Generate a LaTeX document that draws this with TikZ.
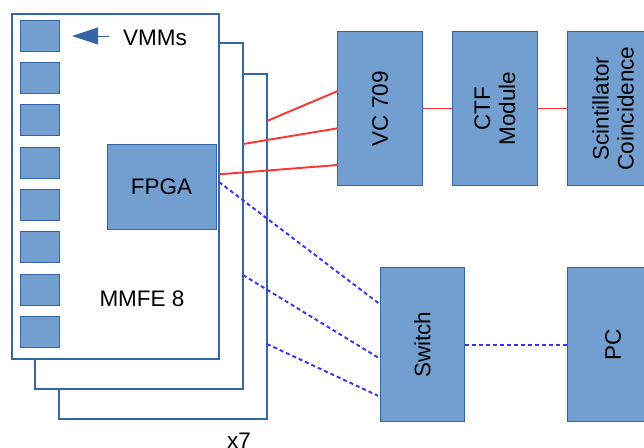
\documentclass[tikz,border=0pt]{standalone}
\usepackage{fontspec}
\setmainfont{Liberation Sans}
\usetikzlibrary{arrows.meta}
\definecolor{boxfill}{HTML}{729FCF}
\definecolor{boxline}{HTML}{3465A4}
\definecolor{redline}{HTML}{FF3333}
\definecolor{blueline}{HTML}{3333FF}
\begin{document}
\begin{tikzpicture}[x=1pt,y=-1pt,
  board/.style={draw=boxline, line width=1.7pt, fill=white, inner sep=0pt},
  vmm/.style={draw=boxline, line width=0.9pt, fill=boxfill, inner sep=0pt, minimum width=39pt, minimum height=31pt},
  block/.style={draw=boxline, line width=0.9pt, fill=boxfill, inner sep=0pt, align=center, font=\fontsize{22.5}{25}\selectfont},
  vblock/.style={block, rotate=90},
  lbl/.style={inner sep=0pt, font=\fontsize{22.5}{25}\selectfont},
  redc/.style={draw=redline, line width=1.9pt},
  bluec/.style={draw=blueline, line width=1.9pt, dash pattern=on 4pt off 3pt}
]
\useasboundingbox (0,0) rectangle (644,447);
% boards, back to front
\node[board, minimum width=208pt, minimum height=345pt] (b3) at (163,246.5) {};
\node[board, minimum width=208pt, minimum height=346pt] (b2) at (139,216) {};
\node[board, minimum width=207.3pt, minimum height=345pt] (b1) at (115.35,186.5) {};
% VMMs
\foreach \i/\y in {1/35.5,2/77.5,3/119.5,4/162.5,5/204.5,6/247,7/289.5,8/331.5}
  \node[vmm] (v\i) at (39.5,\y) {};
\node[block, minimum width=109pt, minimum height=85pt] (fpga) at (161.5,186.5) {FPGA};
\node[lbl] (vmmlbl) at (155,38) {VMMs};
\node[lbl] (mmfe) at (142,299) {MMFE 8};
\node[lbl] (x7) at (239,441) {x7};
% arrow
\coordinate (arrS) at (109,36);
\coordinate (arrT) at (72,36);
\draw[boxline, line width=0.9pt, -{Triangle[length=26pt,width=17pt]}] (arrS) -- (arrT);
% right blocks
\node[vblock, minimum width=153.6pt, minimum height=84.6pt] (vc) at (380,108.5) {VC 709};
\node[vblock, minimum width=153.6pt, minimum height=85pt] (ctf) at (494.8,108.5) {CTF\\Module};
\node[vblock, minimum width=153.6pt, minimum height=92pt] (sci) at (613,108.5) {Scintillator\\Coincidence};
\node[vblock, minimum width=154pt, minimum height=84.7pt] (sw) at (422.3,344.7) {Switch};
\node[vblock, minimum width=154pt, minimum height=92pt] (pc) at (613,344.7) {PC};
% red connectors
\coordinate (r1a) at (267,121); \coordinate (r1b) at (337.7,91);
\coordinate (r2a) at (243,144); \coordinate (r2b) at (337.7,128.3);
\coordinate (r3a) at (219,174.3); \coordinate (r3b) at (337.7,165);
\draw[redc] (r1a) -- (r1b);
\draw[redc] (r2a) -- (r2b);
\draw[redc] (r3a) -- (r3b);
\draw[redc] (vc.south) -- (ctf.north);
\draw[redc] (ctf.south) -- (sci.north);
% blue connectors
\coordinate (d1a) at (219,182); \coordinate (d1b) at (380,304.3);
\coordinate (d2a) at (243,275); \coordinate (d2b) at (380,358.7);
\coordinate (d3a) at (267,344); \coordinate (d3b) at (378,395.7);
\draw[bluec] (d1a) -- (d1b);
\draw[bluec] (d2a) -- (d2b);
\draw[bluec] (d3a) -- (d3b);
\draw[bluec] (sw.south) -- (pc.north);
\end{tikzpicture}
\end{document}
